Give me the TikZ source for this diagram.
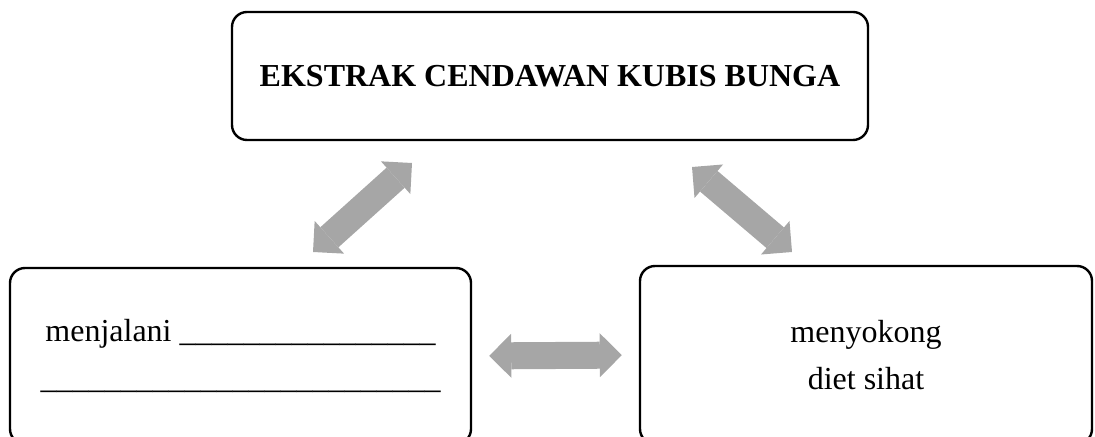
\documentclass[tikz,border=0pt]{standalone}
\usepackage{fontspec}
\setmainfont{Liberation Serif}
\usetikzlibrary{arrows.meta}
\definecolor{arrowgray}{RGB}{166,166,166}
\tikzset{
  box/.style={draw, line width=1.2pt, rounded corners=7.5pt, align=center,
    font=\fontsize{16}{23.5}\selectfont},
  link/.style={arrowgray, line width=13.5pt,
    {Triangle[length=11pt,width=22pt,line width=0pt]}-{Triangle[length=11pt,width=22pt,line width=0pt]}}
}
\begin{document}
\begin{tikzpicture}[x=0.5pt,y=-0.5pt]
    \useasboundingbox (0,0) rectangle (1095,437);
    \node[box, minimum width=318pt, minimum height=64pt] (extract) at (550,76)
        {\bfseries EKSTRAK CENDAWAN KUBIS BUNGA};
    \node[box, minimum width=230.5pt, minimum height=88pt] (practice) at (240.5,356)
        {menjalani \_\_\_\_\_\_\_\_\_\_\_\_\_\_\_\_\\
         \_\_\_\_\_\_\_\_\_\_\_\_\_\_\_\_\_\_\_\_\_\_\_\_\_};
    \node[box, minimum width=226pt, minimum height=89pt] (support) at (866,355)
        {menyokong\\diet sihat};
    % arrow ends
    \coordinate (ll) at (313,252);
    \coordinate (lu) at (412,163);
    \coordinate (ru) at (692,167);
    \coordinate (rl) at (792,252);
    \draw[link] (ll) -- (lu);
    \draw[link] (ru) -- (rl);
    \draw[link, shorten <=8.5pt, shorten >=8.5pt] (practice.east) -- (support.west);
\end{tikzpicture}
\end{document}
